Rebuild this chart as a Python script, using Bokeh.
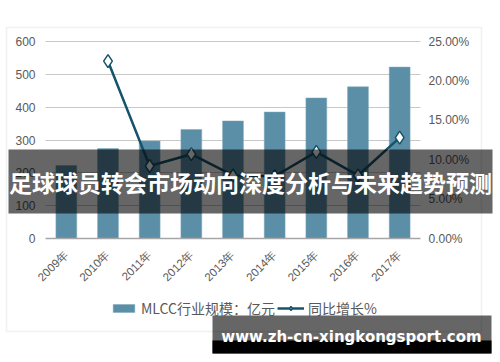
import math
from bokeh.plotting import figure
from bokeh.models import (Range1d, LinearAxis, FixedTicker, PrintfTickFormatter,
                          Legend, LegendItem, BoxAnnotation, Label, ColumnDataSource, Grid)
from bokeh.embed import file_html
from bokeh.resources import INLINE

years = ["2009年", "2010年", "2011年", "2012年", "2013年", "2014年", "2015年", "2016年", "2017年"]
market_size = [222, 274, 297, 332, 358, 385, 428, 462, 522]
growth_years = ["2010年", "2011年", "2012年", "2013年", "2014年", "2015年", "2016年", "2017年"]
growth_pct = [22.5, 9.2, 10.7, 8.0, 7.9, 11.0, 8.0, 12.8]
left_ticks = [0, 100, 200, 300, 400, 500, 600]
right_ticks = [0, 5, 10, 15, 20, 25]

title_text = "足球球员转会市场动向深度分析与未来趋势预测"
watermark = "www.zh-cn-xingkongsport.com"
bar_label = "MLCC行业规模：亿元"
line_label = "同比增长%"

BAR = "#5b8fa7"
LINE = "#16546b"
GREY = "#595959"

W, H = 500, 362
# plot area inside the canvas (pixels)
PL, PR, PT, PB = 45, 420, 41, 238
n = len(years)
ux = (PR - PL) / n
x0, x1 = -0.5 - PL / ux, n - 0.5 + (W - PR) / ux
uy = (PB - PT) / left_ticks[-1]
y0, y1 = -(H - PB) / uy, left_ticks[-1] + PT / uy
uy2 = (PB - PT) / right_ticks[-1]
r0, r1 = -(H - PB) / uy2, right_ticks[-1] + PT / uy2

p = figure(width=W, height=H, x_range=Range1d(x0, x1), y_range=Range1d(y0, y1),
           output_backend="svg", toolbar_location=None,
           min_border=0, x_axis_type=None, y_axis_type=None)
p.outline_line_color = None
p.extra_y_ranges = {"pct": Range1d(r0, r1)}

xi = list(range(n))
gxi = [years.index(g) for g in growth_years]
bar_src = ColumnDataSource(dict(x=xi, y=market_size))
line_src = ColumnDataSource(dict(x=gxi, y=growth_pct))

# outer chart border
p.add_layout(BoxAnnotation(left=6, right=481, bottom=31, top=335,
                           left_units="screen", right_units="screen",
                           top_units="screen", bottom_units="screen",
                           fill_alpha=0, line_color="#cfcfcf", line_width=1.5, level="underlay"))

grid = Grid(dimension=1, ticker=FixedTicker(ticks=left_ticks[1:]), grid_line_color="#c8c8c8",
            grid_line_width=1, cross_bounds=(-0.5, n - 0.5))
p.add_layout(grid)

bars = p.vbar(x="x", top="y", width=0.5, source=bar_src, fill_color=BAR, line_color="#7aa9bd", line_width=0.5)
ln = p.line(x="x", y="y", source=line_src, y_range_name="pct", line_color=LINE, line_width=2.5)
mk = p.scatter(x="x", y="y", source=line_src, y_range_name="pct", marker="diamond", size=13,
               fill_color="white", line_color=LINE, line_width=1.5)

# axes
la = LinearAxis(ticker=FixedTicker(ticks=left_ticks), fixed_location=-0.5)
ra = LinearAxis(y_range_name="pct", ticker=FixedTicker(ticks=right_ticks),
                formatter=PrintfTickFormatter(format="%.2f%%"), fixed_location=n - 0.5)
for ax in (la, ra):
    ax.axis_line_color = None
    ax.major_tick_line_color = None
    ax.minor_tick_line_color = None
    ax.major_tick_out = 0
    ax.major_tick_in = 0
    ax.minor_tick_out = 0
    ax.major_label_text_color = GREY
    ax.major_label_text_font = "Liberation Sans"
    ax.major_label_text_font_size = "12px"
la.major_label_standoff = 10
ra.major_label_standoff = 8
p.add_layout(la, "left")
p.add_layout(ra, "right")

xa = LinearAxis(ticker=FixedTicker(ticks=xi), fixed_location=0, bounds=(-0.5, n - 0.5),
                major_label_overrides={i: y for i, y in enumerate(years)})
xa.axis_line_color = "#a6a6a6"
xa.axis_line_width = 1.5
xa.major_tick_line_color = None
xa.minor_tick_line_color = None
xa.major_tick_out = 0
xa.major_tick_in = 0
xa.minor_tick_out = 0
xa.major_label_orientation = math.pi / 4
xa.major_label_text_color = GREY
xa.major_label_text_font = "Liberation Sans"
xa.major_label_text_font_size = "11.5px"
xa.major_label_standoff = 14
p.add_layout(xa, "below")

legend = Legend(items=[LegendItem(label=bar_label, renderers=[bars]),
                       LegendItem(label=line_label, renderers=[ln, mk])],
                orientation="horizontal", location=(110, 44),
                border_line_color=None, background_fill_alpha=0,
                label_text_font="Noto Sans CJK SC", label_text_font_size="14px",
                label_text_color=GREY, glyph_width=27, glyph_height=10,
                spacing=2, padding=0, margin=0, label_standoff=4)
p.add_layout(legend, "center")

# overlay banners
p.add_layout(BoxAnnotation(left=8, right=492, bottom=149, top=213,
                           left_units="screen", right_units="screen",
                           top_units="screen", bottom_units="screen",
                           fill_color="black", fill_alpha=0.6, line_alpha=0, level="overlay"))
p.add_layout(Label(x=250, y=181, x_units="screen", y_units="screen", text=title_text,
                   text_align="center", text_baseline="middle", text_color="white",
                   text_font="Noto Sans CJK SC", text_font_style="bold", text_font_size="23px",
                   level="overlay"))
p.add_layout(BoxAnnotation(left=212, right=491, bottom=9, top=47,
                           left_units="screen", right_units="screen",
                           top_units="screen", bottom_units="screen",
                           fill_color="black", fill_alpha=0.6, line_alpha=0, level="overlay"))
p.add_layout(BoxAnnotation(left=212, right=491, bottom=9, top=22,
                           left_units="screen", right_units="screen",
                           top_units="screen", bottom_units="screen",
                           fill_color="black", fill_alpha=1.0, line_alpha=0, level="overlay"))
p.add_layout(Label(x=351, y=26, x_units="screen", y_units="screen", text=watermark,
                   text_align="center", text_baseline="middle", text_color="white",
                   text_font="DejaVu Sans", text_font_style="bold", text_font_size="15px",
                   level="overlay"))

open("out.html", "w").write(file_html(p, INLINE))
